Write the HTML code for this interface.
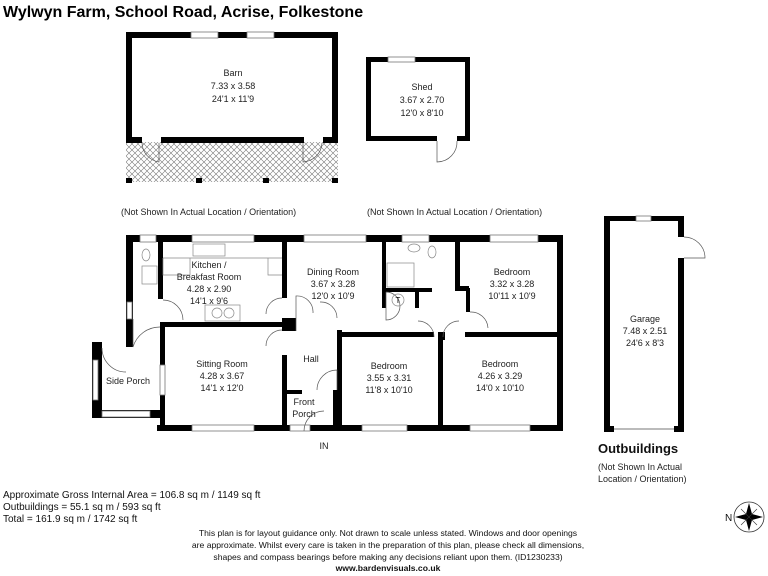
<!DOCTYPE html>
<html><head><meta charset="utf-8"><style>
body{margin:0;background:#fff;}
svg{display:block;font-family:"Liberation Sans",sans-serif;}
.t{font-size:9px;fill:#222;text-anchor:middle;}
.w{fill:#000;}
.win{fill:#fff;stroke:#777;stroke-width:0.8;}
.d{fill:none;stroke:#555;stroke-width:0.7;}
.f{fill:none;stroke:#888;stroke-width:0.7;}
</style></head><body>
<svg width="768" height="576" viewBox="0 0 768 576">
<defs>
<pattern id="h" width="6" height="6" patternUnits="userSpaceOnUse">
<path d="M0 0L6 6M6 0L0 6" stroke="#777" stroke-width="0.6"/>
</pattern>
<marker id="a" markerWidth="4" markerHeight="4" refX="2" refY="2" orient="auto"><path d="M0 0L4 2L0 4z" fill="#444"/></marker>
</defs>
<text x="3" y="17" style="font-size:16px;font-weight:bold" fill="#000">Wylwyn Farm, School Road, Acrise, Folkestone</text>

<!-- Barn -->
<rect x="126" y="142" width="212" height="40" fill="url(#h)"/>
<rect class="w" x="126" y="32" width="212" height="6"/>
<rect class="win" x="191" y="32" width="27" height="6"/>
<rect class="win" x="247" y="32" width="27" height="6"/>
<rect class="w" x="126" y="32" width="6" height="111"/>
<rect class="w" x="332" y="32" width="6" height="111"/>
<rect class="w" x="126" y="137" width="16" height="6"/>
<rect class="w" x="161" y="137" width="143" height="6"/>
<rect class="w" x="323" y="137" width="15" height="6"/>
<path class="d" d="M159 143V162A20 20 0 0 1 142 143M303 143V162A20 20 0 0 0 322 143"/>
<rect class="w" x="126" y="178" width="6" height="5"/><rect class="w" x="196" y="178" width="6" height="5"/><rect class="w" x="263" y="178" width="6" height="5"/><rect class="w" x="332" y="178" width="6" height="5"/>
<text class="t" x="233" y="76">Barn</text><text class="t" x="233" y="89">7.33 x 3.58</text><text class="t" x="233" y="102">24'1 x 11'9</text>

<!-- Shed -->
<rect class="w" x="366" y="57" width="104" height="5"/>
<rect class="win" x="388" y="57" width="27" height="5"/>
<rect class="w" x="366" y="57" width="5" height="84"/>
<rect class="w" x="465" y="57" width="5" height="84"/>
<rect class="w" x="366" y="136" width="71" height="5"/>
<rect class="w" x="457" y="136" width="13" height="5"/>
<path class="d" d="M437 141V162A20 20 0 0 0 457 141"/>
<text class="t" x="422" y="90">Shed</text><text class="t" x="422" y="103">3.67 x 2.70</text><text class="t" x="422" y="116">12'0 x 8'10</text>

<text x="121" y="215" style="font-size:9px" fill="#222">(Not Shown In Actual Location / Orientation)</text>
<text x="367" y="215" style="font-size:9px" fill="#222">(Not Shown In Actual Location / Orientation)</text>

<!-- Main house -->
<g>
<rect class="w" x="126" y="235" width="437" height="7"/>
<rect class="win" x="140" y="235" width="16" height="7"/>
<rect class="win" x="192" y="235" width="62" height="7"/>
<rect class="win" x="304" y="235" width="62" height="7"/>
<rect class="win" x="402" y="235" width="27" height="7"/>
<rect class="win" x="490" y="235" width="48" height="7"/>
<rect class="w" x="126" y="235" width="7" height="112"/>
<rect class="win" x="127" y="302" width="5" height="17"/>
<rect class="w" x="557" y="235" width="6" height="196"/>
<rect class="w" x="158" y="235" width="5" height="64"/>
<rect class="w" x="160" y="322" width="127" height="5"/>
<rect class="w" x="160" y="322" width="5" height="109"/>
<rect class="win" x="160" y="365" width="5" height="30"/>
<rect class="w" x="157" y="425" width="406" height="6"/>
<rect class="win" x="192" y="425" width="62" height="6"/>
<rect class="win" x="290" y="425" width="20" height="6"/>
<rect class="win" x="362" y="425" width="45" height="6"/>
<rect class="win" x="470" y="425" width="60" height="6"/>
<rect class="w" x="282" y="242" width="5" height="56"/>
<rect class="w" x="282" y="318" width="14" height="13"/>
<rect class="w" x="282" y="355" width="5" height="70"/>
<rect class="w" x="287" y="390" width="15" height="4"/>
<rect class="w" x="337" y="330" width="5" height="60"/>
<rect class="w" x="333" y="390" width="9" height="41"/>
<rect class="w" x="337" y="332" width="97" height="5"/>
<rect class="w" x="438" y="332" width="5" height="99"/>
<rect class="w" x="438" y="332" width="7" height="8"/>
<rect class="w" x="465" y="332" width="98" height="5"/>
<rect class="w" x="382" y="242" width="4" height="66"/>
<rect class="w" x="382" y="288" width="50" height="4"/>
<rect class="w" x="382" y="303" width="4" height="5"/>
<rect class="w" x="415" y="288" width="4" height="20"/>
<rect class="w" x="455" y="242" width="5" height="48"/>
<rect class="w" x="455" y="286" width="14" height="5"/>
<rect class="w" x="466" y="288" width="4" height="24"/>
<!-- side porch -->
<rect class="w" x="92" y="342" width="10" height="76"/>
<rect class="win" x="93" y="360" width="5" height="40"/>
<rect class="w" x="92" y="410" width="68" height="8"/>
<rect class="win" x="102" y="411" width="48" height="6"/>
<!-- fixtures/doors -->
<path class="f" d="M163 258H282M163 258V275H190V258M268 258V275H282"/>
<rect class="f" x="193" y="244" width="32" height="12"/>
<rect class="f" x="142" y="266" width="15" height="18"/>
<ellipse class="f" cx="146" cy="255" rx="4" ry="6"/>
<rect class="f" x="205" y="305" width="35" height="16"/>
<circle class="f" cx="217" cy="313" r="5"/><circle class="f" cx="229" cy="313" r="5"/>
<path class="d" d="M133 319V347A28 28 0 0 1 160 327M163 300A20 20 0 0 1 183 320M282 298A16 16 0 0 0 266 314M282 330A16 16 0 0 0 266 346M296 331V296A16 16 0 0 1 313 313M337 318A16 16 0 0 0 320 302M337 390V370A20 20 0 0 0 317 390M102 348A24 24 0 0 0 126 372M304 431A20 20 0 0 1 324 411M386 292V320A8 8 0 0 0 386 292"/>
<path class="d" d="M434 337A16 16 0 0 0 418 321M443 337A16 16 0 0 1 459 321M470 312A17 17 0 0 1 488 328"/>
<rect class="f" x="387" y="263" width="27" height="24"/>
<circle class="f" cx="398" cy="300" r="6"/><text x="398" y="303" style="font-size:8px" text-anchor="middle">T</text>
<ellipse class="f" cx="432" cy="252" rx="4" ry="6"/><ellipse class="f" cx="414" cy="248" rx="6" ry="4"/>
</g>
<text class="t" x="209" y="268">Kitchen /</text><text class="t" x="209" y="280">Breakfast Room</text><text class="t" x="209" y="292">4.28 x 2.90</text><text class="t" x="209" y="304">14'1 x 9'6</text>
<text class="t" x="333" y="275">Dining Room</text><text class="t" x="333" y="287">3.67 x 3.28</text><text class="t" x="333" y="299">12'0 x 10'9</text>
<text class="t" x="512" y="275">Bedroom</text><text class="t" x="512" y="287">3.32 x 3.28</text><text class="t" x="512" y="299">10'11 x 10'9</text>
<text class="t" x="222" y="367">Sitting Room</text><text class="t" x="222" y="379">4.28 x 3.67</text><text class="t" x="222" y="391">14'1 x 12'0</text>
<text class="t" x="311" y="362">Hall</text>
<text class="t" x="128" y="384">Side Porch</text>
<text class="t" x="304" y="405">Front</text><text class="t" x="304" y="417">Porch</text>
<text class="t" x="389" y="369">Bedroom</text><text class="t" x="389" y="381">3.55 x 3.31</text><text class="t" x="389" y="393">11'8 x 10'10</text>
<text class="t" x="500" y="367">Bedroom</text><text class="t" x="500" y="379">4.26 x 3.29</text><text class="t" x="500" y="391">14'0 x 10'10</text>
<text class="t" x="324" y="449">IN</text>

<!-- Garage -->
<rect class="w" x="604" y="216" width="80" height="5"/>
<rect class="win" x="636" y="216" width="15" height="5"/>
<rect class="w" x="604" y="216" width="6" height="216"/>
<rect class="w" x="678" y="216" width="6" height="21"/>
<rect class="w" x="678" y="258" width="6" height="174"/>
<rect class="w" x="604" y="426" width="10" height="6"/>
<rect class="w" x="674" y="426" width="10" height="6"/>
<line x1="614" y1="429" x2="674" y2="429" stroke="#777"/>
<path class="d" d="M684 237A21 21 0 0 1 705 258H684"/>
<text class="t" x="645" y="322">Garage</text><text class="t" x="645" y="334">7.48 x 2.51</text><text class="t" x="645" y="346">24'6 x 8'3</text>

<text x="598" y="453" style="font-size:13px;font-weight:bold" fill="#111">Outbuildings</text>
<text x="598" y="470" style="font-size:9px" fill="#222">(Not Shown In Actual</text>
<text x="598" y="482" style="font-size:9px" fill="#222">Location / Orientation)</text>

<text x="3" y="498" style="font-size:10px" fill="#111">Approximate Gross Internal Area = 106.8 sq m / 1149 sq ft</text>
<text x="3" y="510" style="font-size:10px" fill="#111">Outbuildings = 55.1 sq m / 593 sq ft</text>
<text x="3" y="522" style="font-size:10px" fill="#111">Total = 161.9 sq m / 1742 sq ft</text>
<g style="font-size:8.6px" fill="#111" text-anchor="middle">
<text x="388" y="536">This plan is for layout guidance only. Not drawn to scale unless stated. Windows and door openings</text>
<text x="388" y="548">are approximate. Whilst every care is taken in the preparation of this plan, please check all dimensions,</text>
<text x="388" y="560">shapes and compass bearings before making any decisions reliant upon them. (ID1230233)</text>
<text x="388" y="571" font-weight="bold">www.bardenvisuals.co.uk</text>
</g>
<!-- compass -->
<circle cx="749" cy="517" r="15" fill="none" stroke="#333" stroke-width="0.8"/>
<path d="M749 503L752 514L763 517L752 520L749 531L746 520L735 517L746 514Z" fill="#000"/>
<path d="M741 509L749 517L757 509M741 525L749 517L757 525" stroke="#333" stroke-width="0.6" fill="none"/>
<text x="725" y="521" style="font-size:10px" fill="#111">N</text>
</svg>
</body></html>
